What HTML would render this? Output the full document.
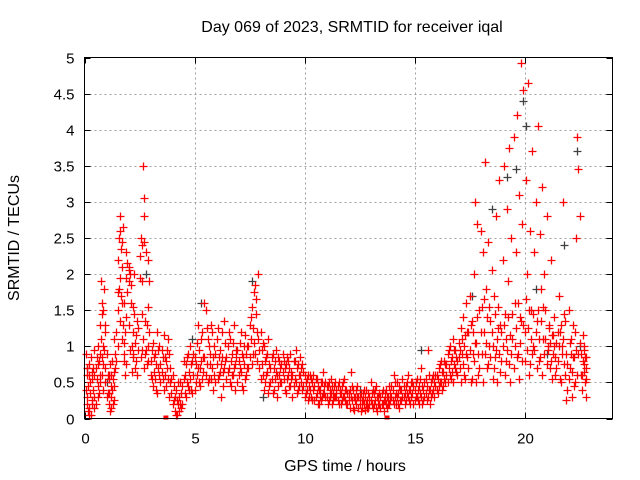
<!DOCTYPE html>
<html><head><meta charset="utf-8"><style>
html,body{margin:0;padding:0;background:#fff;}
svg{display:block;font-family:"Liberation Sans",sans-serif;}
</style></head><body>
<svg id="chart" width="640" height="480" viewBox="0 0 640 480">
<text x="352" y="32" font-size="16" text-anchor="middle">Day 069 of 2023, SRMTID for receiver iqal</text>
<text x="345" y="471" font-size="16" text-anchor="middle">GPS time / hours</text>
<text transform="translate(19,238) rotate(-90)" font-size="16" text-anchor="middle">SRMTID / TECUs</text>
<g id="grid"></g>
<g id="ticks"></g>
<g id="black"></g>
<g id="red"></g>
<rect x="84.5" y="57.5" width="528" height="361" fill="none" stroke="#000" stroke-width="1"/>
</svg>
<script>
const xTicks=[0,5,10,15,20];
const yTicks=[0,0.5,1,1.5,2,2.5,3,3.5,4,4.5,5];
const yTickLabels=["0","0.5","1","1.5","2","2.5","3","3.5","4","4.5","5"];
const redTimes=[0.05,0.1,0.12,0.15,0.2,0.22,0.25,0.3,0.33,0.35,0.4,0.42,0.45,0.5,0.55,0.6,0.62,0.65,0.7,0.72,0.75,0.78,0.8,0.82,0.85,0.9,0.92,0.95,1.0,1.05,1.1,1.12,1.15,1.2,1.22,1.25,1.3,1.33,1.35,1.4,1.45,1.5,1.52,1.55,1.6,1.62,1.65,1.7,1.72,1.75,1.78,1.8,1.85,1.88,1.9,1.95,2.0,2.02,2.05,2.1,2.15,2.2,2.22,2.25,2.3,2.35,2.4,2.45,2.5,2.55,2.6,2.62,2.65,2.7,2.72,2.75,2.8,2.85,2.88,2.9,2.95,3.0,3.05,3.1,3.15,3.2,3.25,3.3,3.35,3.4,3.45,3.5,3.55,3.6,3.65,3.7,3.75,3.8,3.85,3.9,3.95,4.0,4.05,4.1,4.15,4.2,4.25,4.3,4.35,4.4,4.45,4.5,4.55,4.6,4.65,4.7,4.75,4.8,4.85,4.9,4.95,5.0,5.05,5.1,5.15,5.2,5.25,5.3,5.35,5.4,5.45,5.5,5.55,5.6,5.65,5.7,5.75,5.8,5.85,5.9,5.95,6.0,6.05,6.1,6.15,6.2,6.25,6.3,6.35,6.4,6.45,6.5,6.55,6.6,6.65,6.7,6.75,6.8,6.85,6.9,6.95,7.0,7.05,7.1,7.15,7.2,7.25,7.3,7.35,7.4,7.45,7.5,7.55,7.6,7.65,7.7,7.75,7.8,7.85,7.9,7.95,8.0,8.05,8.1,8.15,8.2,8.25,8.3,8.35,8.4,8.45,8.5,8.55,8.6,8.65,8.7,8.75,8.8,8.85,8.9,8.95,9.0,9.05,9.1,9.15,9.2,9.25,9.3,9.35,9.4,9.45,9.5,9.55,9.6,9.65,9.7,9.75,9.8,9.85,9.9,9.95,10.0,10.05,10.1,10.15,10.2,10.25,10.3,10.35,10.4,10.45,10.5,10.55,10.6,10.65,10.7,10.75,10.8,10.85,10.9,10.95,11.0,11.05,11.1,11.15,11.2,11.25,11.3,11.35,11.4,11.45,11.5,11.55,11.6,11.65,11.7,11.75,11.8,11.85,11.9,11.95,12.0,12.05,12.1,12.15,12.2,12.25,12.3,12.35,12.4,12.45,12.5,12.55,12.6,12.65,12.7,12.75,12.8,12.85,12.9,12.95,13.0,13.05,13.1,13.15,13.2,13.25,13.3,13.35,13.4,13.45,13.5,13.55,13.6,13.65,13.7,13.75,13.8,13.85,13.9,13.95,14.0,14.05,14.1,14.15,14.2,14.25,14.3,14.35,14.4,14.45,14.5,14.55,14.6,14.65,14.7,14.75,14.8,14.85,14.9,14.95,15.0,15.05,15.1,15.15,15.2,15.25,15.3,15.35,15.4,15.45,15.5,15.55,15.6,15.65,15.7,15.75,15.8,15.85,15.9,15.95,16.0,16.05,16.1,16.15,16.2,16.25,16.3,16.35,16.4,16.45,16.5,16.55,16.6,16.65,16.7,16.75,16.8,16.85,16.9,16.95,17.0,17.05,17.1,17.15,17.2,17.25,17.3,17.35,17.4,17.45,17.5,17.55,17.6,17.65,17.7,17.75,17.8,17.85,17.9,17.95,18.0,18.05,18.1,18.15,18.2,18.25,18.3,18.35,18.4,18.45,18.5,18.55,18.6,18.65,18.7,18.75,18.8,18.85,18.9,18.95,19.0,19.05,19.1,19.15,19.2,19.25,19.3,19.35,19.4,19.45,19.5,19.55,19.6,19.65,19.7,19.75,19.8,19.85,19.9,19.95,20.0,20.05,20.1,20.15,20.2,20.25,20.3,20.35,20.4,20.45,20.5,20.55,20.6,20.65,20.7,20.75,20.8,20.85,20.9,20.95,21.0,21.05,21.1,21.15,21.2,21.25,21.3,21.35,21.4,21.45,21.5,21.55,21.6,21.65,21.7,21.75,21.8,21.85,21.9,21.95,22.0,22.05,22.1,22.15,22.2,22.25,22.3,22.35,22.4,22.45,22.5,22.55,22.6,22.65,22.7,22.72,22.75,22.78,22.8];
const redValuesA=[0.9,0.6,0.3,0.1,0.75,0.05,0.5,0.85,0.2,0.65,0.4,0.95,0.15,0.7,0.55,1.0,0.3,0.8,1.3,0.6,1.9,1.6,1.45,1.0,0.75,1.8,1.3,0.5,0.9,0.35,0.2,0.6,0.1,0.45,0.3,0.8,0.55,0.25,1.1,0.7,1.2,1.5,2.2,1.8,2.8,2.6,1.7,2.45,2.1,1.3,0.9,1.05,0.6,2.3,1.4,2.15,2.05,1.9,2.0,1.85,1.0,0.85,1.55,2.0,0.7,1.15,1.35,0.95,2.25,2.5,2.4,1.45,3.5,3.05,2.8,0.9,2.3,1.3,2.2,1.0,1.9,0.8,0.55,1.05,0.65,0.9,0.4,1.2,0.7,1.0,0.75,0.95,0.55,1.15,0.85,0.45,0.7,1.1,0.9,0.5,0.35,0.6,0.25,0.1,0.4,0.05,0.2,0.3,0.5,0.15,0.45,0.55,0.35,0.75,0.5,0.9,0.65,1.0,0.4,0.8,0.6,0.85,0.5,1.05,0.7,0.95,0.45,0.8,1.2,0.65,1.6,1.5,0.75,1.1,0.55,0.9,1.3,0.7,0.4,1.0,0.5,0.75,1.25,0.6,0.95,0.3,0.85,0.65,1.35,0.8,0.55,1.0,0.7,1.1,0.45,0.9,0.6,1.3,0.75,0.95,0.5,0.8,1.05,0.65,0.9,0.4,0.75,1.15,0.6,1.0,0.7,1.3,1.1,1.55,0.9,1.75,1.85,1.45,1.2,2.0,0.95,1.2,0.75,0.6,1.0,0.5,0.85,0.65,1.1,0.45,0.7,0.55,0.9,0.4,0.8,0.65,0.3,0.85,0.6,0.5,0.75,0.9,0.55,0.7,0.35,0.85,0.6,0.45,0.9,0.65,0.3,0.8,0.55,0.95,0.7,0.4,0.6,0.85,0.5,0.75,0.45,0.6,0.35,0.55,0.25,0.45,0.6,0.3,0.5,0.4,0.25,0.55,0.35,0.45,0.2,0.4,0.5,0.3,0.65,0.35,0.5,0.3,0.45,0.25,0.4,0.55,0.2,0.35,0.45,0.3,0.4,0.25,0.5,0.35,0.2,0.45,0.3,0.55,0.25,0.4,0.2,0.35,0.15,0.65,0.25,0.4,0.12,0.3,0.2,0.45,0.15,0.3,0.1,0.25,0.35,0.2,0.12,0.4,0.25,0.15,0.3,0.5,0.2,0.15,0.35,0.25,0.45,0.1,0.3,0.2,0.15,0.35,0.2,0.1,0.25,0.4,0.15,0.3,0.2,0.35,0.45,0.25,0.6,0.3,0.2,0.5,0.35,0.15,0.4,0.25,0.55,0.3,0.2,0.45,0.35,0.6,0.25,0.4,0.3,0.5,0.2,0.4,0.3,0.55,0.25,0.45,0.35,0.7,0.2,0.4,0.3,0.55,0.25,0.95,0.4,0.2,0.5,0.35,0.6,0.3,0.45,0.6,0.35,0.7,0.5,0.8,0.4,0.65,0.55,0.75,0.6,0.9,0.7,1.0,0.55,0.85,1.1,0.75,0.95,0.65,0.8,1.05,0.7,1.25,0.9,1.4,0.6,1.15,1.6,0.85,1.2,1.7,0.5,1.35,0.9,2.0,3.0,1.05,2.7,0.6,1.5,2.6,0.9,2.3,1.2,3.55,1.8,0.7,2.45,1.0,1.35,2.05,0.55,1.7,0.85,2.8,1.1,1.55,3.3,0.65,1.2,2.2,3.5,1.45,0.8,2.9,1.9,3.75,0.5,2.5,1.1,3.9,1.6,2.3,4.2,0.9,3.1,1.4,4.93,2.7,4.55,1.2,3.3,2.0,4.65,0.6,2.6,1.5,3.7,1.0,2.3,3.0,1.35,4.05,0.8,2.55,1.8,3.2,1.1,2.0,1.5,2.8,1.0,1.3,0.7,2.2,1.15,0.9,1.4,0.6,1.05,0.8,1.7,1.2,0.5,1.0,3.0,0.75,1.35,0.9,0.4,1.5,0.7,1.1,0.3,1.3,0.85,0.5,2.5,3.9,3.45,2.8,0.9,0.6,1.15,0.75,0.95,0.5,0.85,0.7];
const redValuesB=[0.4,0.2,0.7,0.45,0.15,0.6,0.35,0.05,0.55,0.25,0.7,0.3,0.6,0.2,0.85,0.45,0.75,0.35,0.9,0.5,1.1,0.6,0.85,1.5,0.4,0.95,0.7,1.2,0.3,0.6,0.55,0.35,0.75,0.15,0.6,0.4,0.2,0.65,0.45,0.9,0.8,1.0,1.75,2.5,1.35,1.95,2.35,1.1,1.6,2.65,1.6,0.8,1.2,1.95,0.75,1.75,1.3,2.1,0.95,1.6,0.65,1.2,0.9,1.45,1.05,0.8,0.6,1.25,1.95,0.85,0.95,1.9,1.1,2.45,0.7,1.35,0.95,0.75,1.55,0.8,1.2,0.6,0.95,0.45,0.85,0.55,0.75,0.35,0.95,0.6,0.5,0.65,0.85,0.4,0.6,0.8,0.95,0.55,0.3,0.7,0.55,0.2,0.45,0.3,0.05,0.25,0.5,0.1,0.2,0.35,0.2,0.8,0.6,0.3,0.85,0.45,0.4,0.55,0.75,0.35,0.9,0.4,0.75,0.6,1.3,0.5,0.7,1.1,0.55,0.85,0.85,0.6,1.25,0.5,1.0,0.75,0.55,1.2,0.85,0.6,0.9,1.1,0.55,0.85,0.65,0.75,1.2,0.45,0.7,1.05,0.85,0.65,1.2,0.5,0.8,0.6,1.05,0.7,0.4,0.85,0.95,0.6,0.7,1.2,0.45,0.85,1.0,0.55,0.9,0.7,1.0,0.85,1.4,0.75,1.25,1.05,0.9,1.65,0.8,1.1,0.7,0.55,0.95,1.05,0.4,0.8,0.6,0.9,0.35,0.75,0.5,0.85,0.35,0.7,0.55,0.95,0.6,0.45,0.8,0.7,0.5,0.65,0.8,0.4,0.75,0.55,0.8,0.7,0.45,0.55,0.6,0.45,0.8,0.5,0.35,0.75,0.45,0.6,0.7,0.4,0.65,0.3,0.5,0.4,0.6,0.3,0.4,0.55,0.25,0.6,0.45,0.3,0.55,0.2,0.4,0.3,0.25,0.5,0.35,0.45,0.3,0.45,0.2,0.5,0.3,0.35,0.45,0.25,0.3,0.5,0.3,0.45,0.2,0.4,0.35,0.25,0.5,0.3,0.4,0.2,0.35,0.25,0.4,0.3,0.45,0.15,0.3,0.25,0.4,0.3,0.3,0.2,0.35,0.15,0.25,0.4,0.3,0.2,0.15,0.35,0.2,0.25,0.35,0.4,0.2,0.4,0.15,0.3,0.2,0.35,0.3,0.2,0.4,0.25,0.35,0.2,0.3,0.2,0.45,0.25,0.3,0.4,0.2,0.5,0.35,0.3,0.2,0.45,0.25,0.4,0.3,0.45,0.35,0.25,0.5,0.3,0.4,0.2,0.5,0.35,0.45,0.25,0.5,0.3,0.4,0.2,0.55,0.3,0.45,0.25,0.5,0.35,0.45,0.3,0.6,0.4,0.3,0.55,0.4,0.5,0.6,0.4,0.55,0.45,0.75,0.5,0.65,0.45,0.8,0.5,0.75,0.5,0.95,0.6,0.8,0.65,0.5,0.95,0.7,0.85,0.6,0.85,0.95,0.5,1.1,0.75,1.0,0.55,0.9,1.2,0.7,0.95,1.3,0.55,1.2,0.8,1.05,0.5,1.4,0.9,0.7,1.2,1.55,0.5,1.65,0.9,1.05,1.4,0.75,1.55,0.85,1.2,1.0,0.7,1.45,0.95,0.5,1.25,0.9,1.3,0.8,1.0,1.3,0.6,1.1,0.95,1.4,0.75,1.15,0.9,1.45,0.7,1.0,1.25,0.85,1.6,0.55,1.05,1.35,0.8,1.3,0.8,1.65,0.95,1.25,1.5,0.75,1.1,0.9,1.45,0.95,1.2,0.7,1.5,1.1,0.85,1.35,0.6,1.55,0.9,1.1,0.75,0.95,1.25,1.05,0.8,0.55,1.15,1.0,0.85,0.7,1.2,1.0,0.55,1.3,0.9,1.1,1.45,0.6,0.25,0.75,0.55,1.05,0.9,0.65,0.85,0.45,1.2,0.95,0.6,0.9,1.05,0.6,0.4,0.8,1.0,0.65,0.85,0.55,0.3];
const blackTimes=[0.1,1.0,2.8,4.9,5.3,7.6,8.1,12.5,15.3,17.6,18.5,19.2,19.6,19.95,20.05,20.5,21.0,21.8,22.4,22.5];
const blackValues=[0.7,0.5,2.0,1.1,1.6,1.9,0.3,0.4,0.95,1.7,2.9,3.35,3.45,4.4,4.05,1.8,0.9,2.4,3.7,1.0];
const zeroTimes=[3.7,13.75];

const NS="http://www.w3.org/2000/svg";
const X0=84.5,X1=612.5,Y0=418.5,Y1=57.5,XMAX=24,YMAX=5;
function xs(v){return X0+(X1-X0)*v/XMAX;}
function ys(v){return Y0-(Y0-Y1)*v/YMAX;}
const grid=document.getElementById('grid');
const ticks=document.getElementById('ticks');
function line(p,x1,y1,x2,y2,st,dash){const l=document.createElementNS(NS,'line');l.setAttribute('x1',x1);l.setAttribute('y1',y1);l.setAttribute('x2',x2);l.setAttribute('y2',y2);l.setAttribute('stroke',st);if(dash)l.setAttribute('stroke-dasharray',dash);p.appendChild(l);return l;}
yTicks.forEach((v,i)=>{const y=Math.round(ys(v))+0.5;
 if(v>0&&v<YMAX){const g=line(grid,X0,y,X1,y,'#a0a0a0','2,3');
 
 }
 line(ticks,X0,y,X0+6,y,'#000');line(ticks,X1-6,y,X1,y,'#000');
 const t=document.createElementNS(NS,'text');t.setAttribute('x',X0-10);t.setAttribute('y',y+5);t.setAttribute('font-size','15');t.setAttribute('text-anchor','end');t.textContent=yTickLabels[i];
 
 
 ticks.appendChild(t);});
xTicks.forEach(v=>{const x=Math.round(xs(v))+0.5;
 if(v>0){const g=line(grid,x,Y1,x,Y0,'#a0a0a0','2,3');
 
 }
 line(ticks,x,Y0,x,Y0-6,'#000');line(ticks,x,Y1,x,Y1+6,'#000');
 const t=document.createElementNS(NS,'text');t.setAttribute('x',x);t.setAttribute('y',Y0+25);t.setAttribute('font-size','15');t.setAttribute('text-anchor','middle');t.textContent=String(v);
 
 
 ticks.appendChild(t);});
function cross(g,t,v,col){const x=Math.round(xs(t))+0.5,y=Math.round(ys(v))+0.5;
 const p=document.createElementNS(NS,'path');p.setAttribute('d',`M${x-4} ${y}H${x+4}M${x} ${y-4}V${y+4}`);p.setAttribute('stroke',col);p.setAttribute('stroke-width','1.3');
 
 
 g.appendChild(p);}
const bg=document.getElementById('black');
blackTimes.forEach((t,i)=>cross(bg,t,blackValues[i],'#404040'));
const rg=document.getElementById('red');
redTimes.forEach((t,i)=>{cross(rg,t,redValuesB[i],'#ff0000');cross(rg,t,redValuesA[i],'#ff0000');});
zeroTimes.forEach(t=>{const r=document.createElementNS(NS,'rect');r.setAttribute('x',xs(t)-2.5);r.setAttribute('y',ys(0)-3);r.setAttribute('width',5);r.setAttribute('height',4);r.setAttribute('fill','#ff0000');
 
 
 rg.appendChild(r);});
</script>
</body></html>
